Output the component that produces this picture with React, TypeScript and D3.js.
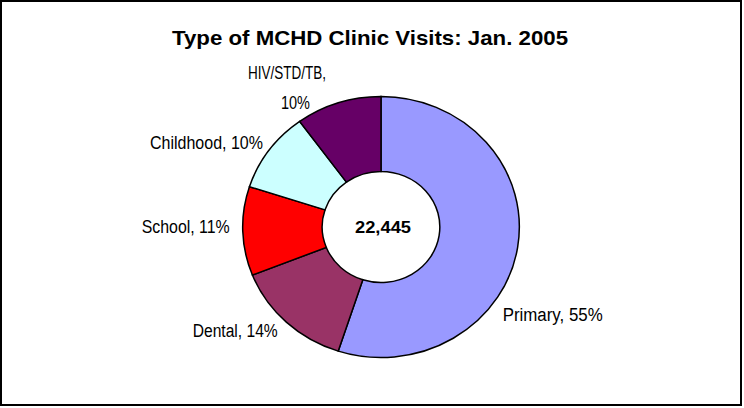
import React from "react";
import * as d3 from "d3";

const title = "Type of MCHD Clinic Visits: Jan. 2005";
const categories = ["Primary", "Dental", "School", "Childhood", "HIV/STD/TB"];
const percents = [55, 14, 11, 10, 10];
const colors = ["#9999FF", "#993366", "#FF0000", "#CCFFFF", "#660066"];
const totalVisits = "22,445";

const W = 744;
const H = 408;

export default function App() {
  const cx = 381;
  const cy = 227;
  const xStretch = 1.06;
  const rOuter = 130.5;
  const rInner = 55.5;

  const pie = d3
    .pie<number>()
    .sort(null)
    .value((d) => d)
    .startAngle(0)
    .endAngle(2 * Math.PI);
  const arcs = pie(percents);
  const arcGen = d3.arc<d3.PieArcDatum<number>>().innerRadius(rInner).outerRadius(rOuter);

  // label layout: [x (text start), baseline y, text width]
  const labelLayout: { x: number; y: number; w: number }[][] = [
    [{ x: 502.7, y: 321, w: 100 }],
    [{ x: 192.7, y: 337, w: 85 }],
    [{ x: 141.7, y: 233, w: 88 }],
    [{ x: 150, y: 149, w: 113 }],
    [
      { x: 248, y: 79, w: 78 },
      { x: 281, y: 109, w: 29 },
    ],
  ];

  const labelLines = (i: number): string[] => {
    const t = `${categories[i]}, ${percents[i]}%`;
    if (labelLayout[i].length > 1) return [`${categories[i]},`, `${percents[i]}%`];
    return [t];
  };

  const font = "'Liberation Sans', Arial, sans-serif";

  return (
    <svg
      width={W}
      height={H}
      style={{ position: "absolute", left: 0, top: 0, display: "block", background: "#fff" }}
    >
      <rect x={1} y={1} width={740} height={404} fill="#fff" stroke="#000" strokeWidth={2} />
      <text
        x={172}
        y={45}
        fontFamily={font}
        fontWeight="bold"
        fontSize={21}
        textLength={396}
        lengthAdjust="spacingAndGlyphs"
        fill="#000"
      >
        {title}
      </text>
      <g transform={`translate(${cx},${cy}) scale(${xStretch},1)`}>
        {arcs.map((a, i) => (
          <path
            key={categories[i]}
            d={arcGen(a) || ""}
            fill={colors[i]}
            stroke="#000"
            strokeWidth={1.5}
            vectorEffect="non-scaling-stroke"
          />
        ))}
      </g>
      <text
        x={cx + 2}
        y={233}
        textAnchor="middle"
        fontFamily={font}
        fontWeight="bold"
        fontSize={16}
        textLength={56}
        lengthAdjust="spacingAndGlyphs"
        fill="#000"
      >
        {totalVisits}
      </text>
      {categories.map((c, i) =>
        labelLines(i).map((line, j) => {
          const L = labelLayout[i][j];
          return (
            <text
              key={`${c}-${j}`}
              x={L.x}
              y={L.y}
              fontFamily={font}
              fontSize={18}
              textLength={L.w}
              lengthAdjust="spacingAndGlyphs"
              fill="#000"
            >
              {line}
            </text>
          );
        })
      )}
    </svg>
  );
}
